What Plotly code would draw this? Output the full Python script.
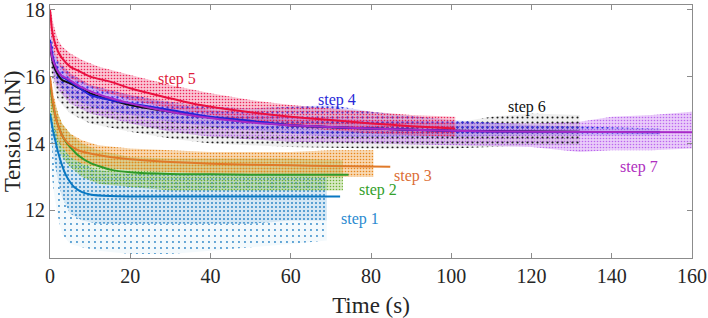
import plotly.graph_objects as go

# ---------------- data ----------------
# fitted curves (time s, tension nN)
t1 = [0, 0.5, 1, 1.5, 2, 3, 4, 5, 6, 8, 10, 15, 20, 30, 40, 50, 60, 72.3]
f1 = [14.9, 14.55, 14.25, 14.0, 13.75, 13.35, 13.05, 12.85, 12.7, 12.55, 12.48, 12.43, 12.42, 12.42, 12.42, 12.42, 12.42, 12.42]
t2 = [0, 0.5, 1, 1.5, 2, 3, 4, 5, 7, 10, 15, 20, 30, 40, 50, 60, 74.4]
f2 = [15.8, 15.35, 15.0, 14.75, 14.55, 14.25, 14.05, 13.9, 13.65, 13.42, 13.22, 13.14, 13.09, 13.08, 13.07, 13.07, 13.07]
t3 = [0, 0.5, 1, 1.5, 2, 3, 4, 5, 7, 10, 15, 20, 30, 40, 50, 60, 70, 84.8]
f3 = [16.0, 15.45, 15.05, 14.75, 14.55, 14.25, 14.07, 13.95, 13.8, 13.7, 13.6, 13.53, 13.45, 13.4, 13.37, 13.35, 13.33, 13.31]
t4 = [0, 0.5, 1, 2, 3, 5, 7.5, 10, 15, 20, 30, 40, 50, 60, 80, 100, 120, 152]
f4 = [17.1, 16.7, 16.45, 16.15, 16.0, 15.85, 15.65, 15.45, 15.3, 15.2, 15.0, 14.8, 14.68, 14.55, 14.45, 14.38, 14.35, 14.34]
t5 = [0, 0.5, 1, 2, 3, 5, 7.5, 10, 15, 20, 27.5, 37.5, 47.5, 60, 70, 80, 90, 101]
f5 = [18.0, 17.4, 17.1, 16.75, 16.55, 16.3, 16.15, 16.0, 15.85, 15.65, 15.42, 15.15, 14.97, 14.8, 14.7, 14.6, 14.52, 14.45]
t6 = [0, 0.5, 1, 2, 3, 5, 10, 20, 30, 40, 60, 80, 100, 132]
f6 = [16.9, 16.55, 16.3, 16.05, 15.9, 15.8, 15.5, 15.15, 14.95, 14.78, 14.55, 14.45, 14.38, 14.35]
t7 = [0, 0.5, 1, 2, 3, 4.2, 7.5, 12.5, 20, 27.5, 37.5, 47.5, 60, 80, 100, 120, 160]
f7 = [17.0, 16.6, 16.4, 16.15, 16.02, 15.95, 15.7, 15.45, 15.2, 15.0, 14.8, 14.66, 14.55, 14.45, 14.38, 14.35, 14.34]

# measured-point clouds: time knots, upper and lower edge of the cloud
b1_t = [0, 1, 2, 3, 5, 8, 12, 20, 30, 40, 50, 60, 69]
b1_up = [15.0, 14.6, 14.2, 13.9, 13.6, 13.4, 13.2, 13.1, 13.1, 13.1, 13.05, 13.05, 13.0]
b1_lo = [14.3, 13.5, 12.9, 12.4, 11.9, 11.7, 11.6, 11.6, 11.6, 11.6, 11.6, 11.7, 11.7]
b1_lo2 = [13.5, 12.5, 11.8, 11.3, 11.0, 10.9, 10.8, 10.7, 10.7, 10.8, 10.9, 11.0, 11.1]
b2_t = [0, 1, 2, 3, 5, 8, 12, 20, 30, 40, 50, 60, 73]
b2_up = [15.9, 15.3, 14.9, 14.6, 14.3, 14.0, 13.8, 13.6, 13.55, 13.55, 13.55, 13.55, 13.5]
b2_lo = [15.0, 14.3, 13.9, 13.6, 13.3, 13.0, 12.8, 12.7, 12.6, 12.6, 12.6, 12.6, 12.6]
b3_t = [0, 1, 2, 3, 5, 8, 12, 20, 30, 40, 50, 60, 70, 80.6]
b3_up = [16.1, 15.4, 14.9, 14.6, 14.3, 14.1, 13.95, 13.85, 13.8, 13.75, 13.75, 13.75, 13.8, 13.8]
b3_lo = [15.3, 14.6, 14.1, 13.9, 13.6, 13.4, 13.3, 13.2, 13.15, 13.1, 13.1, 13.05, 13.0, 13.0]
b4_t = [0, 1, 2, 5, 10, 20, 30, 40, 50, 60, 70, 80, 100, 120, 152]
b4_up = [17.4, 16.8, 16.5, 16.1, 15.75, 15.45, 15.25, 15.1, 15.05, 15.1, 15.15, 14.95, 14.7, 14.55, 14.45]
b4_lo = [16.9, 16.1, 15.8, 15.4, 15.1, 14.85, 14.65, 14.5, 14.4, 14.3, 14.2, 14.2, 14.2, 14.25, 14.25]
b5_t = [0, 1, 2, 3, 5, 8, 12, 20, 30, 40, 50, 60, 70, 80, 90, 101]
b5_up = [18.1, 17.5, 17.1, 16.9, 16.7, 16.5, 16.3, 16.05, 15.75, 15.5, 15.3, 15.15, 15.05, 14.95, 14.85, 14.8]
b5_lo = [17.4, 16.7, 16.4, 16.2, 15.95, 15.8, 15.6, 15.3, 15.05, 14.85, 14.65, 14.5, 14.4, 14.3, 14.25, 14.2]
b6_t = [0, 1, 2, 5, 10, 20, 30, 40, 60, 80, 100, 110, 120, 132]
b6_up = [16.9, 16.3, 16.0, 15.7, 15.4, 15.1, 14.95, 14.85, 14.7, 14.65, 14.6, 14.8, 14.9, 14.85]
b6_lo = [16.4, 15.7, 15.3, 14.9, 14.6, 14.35, 14.15, 14.0, 13.9, 13.85, 13.85, 13.9, 13.95, 13.95]
b7_t = [0, 1, 2, 5, 10, 20, 30, 40, 60, 80, 100, 120, 132, 140, 150, 160]
b7_up = [17.2, 16.7, 16.4, 16.1, 15.75, 15.45, 15.2, 15.0, 14.8, 14.7, 14.65, 14.6, 14.65, 14.8, 14.85, 14.95]
b7_lo = [16.7, 15.9, 15.6, 15.2, 14.9, 14.6, 14.35, 14.2, 14.05, 14.0, 13.95, 13.9, 13.75, 13.8, 13.8, 13.85]

labels = ["step 1", "step 2", "step 3", "step 4", "step 5", "step 6", "step 7"]
label_t = [77.3, 81.8, 90.4, 71.6, 31.6, 118.9, 146.9]
label_y = [11.75, 12.62, 13.04, 15.3, 15.93, 15.1, 13.31]

# ---------------- styling ----------------
line_col = ["#0a78c2", "#2f9a2a", "#e07a2a", "#2424d6", "#ea1040", "#111111", "#a82ac8"]
dot_col = ["#2f88c8", "#6cb02e", "#e8861a", "#2a2ae0", "#ec2458", "#1a1a1a", "#bb66ee"]
text_col = ["#2a8ad0", "#33a02a", "#dc6e36", "#2828d8", "#e01c3c", "#111111", "#b030c0"]
rgba_bg = ["rgba(58,144,204,0.22)", "rgba(122,184,58,0.3)", "rgba(234,140,30,0.34)",
           "rgba(42,42,224,0.16)", "rgba(236,44,96,0.28)", "rgba(34,34,34,0.08)",
           "rgba(194,114,240,0.36)"]
SERIF = "Liberation Serif"

fig = go.Figure()


def cloud(tk, up, lo, i, size, solidity, bg):
    fig.add_trace(go.Scatter(
        x=list(tk) + list(tk)[::-1], y=list(up) + list(lo)[::-1],
        mode="none", fill="toself", fillcolor=bg,
        fillpattern=dict(shape=".", fgcolor=dot_col[i], bgcolor=bg,
                         size=size, solidity=solidity, fgopacity=1),
        hoverinfo="skip", showlegend=False))


# clouds, back to front
cloud(b7_t, b7_up, b7_lo, 6, 3, 0.22, rgba_bg[6])
cloud(b6_t, b6_up, b6_lo, 5, 5, 0.14, rgba_bg[5])
cloud(b4_t, b4_up, b4_lo, 3, 5, 0.16, rgba_bg[3])
cloud(b5_t, b5_up, b5_lo, 4, 3, 0.22, rgba_bg[4])
cloud(b1_t, b1_lo, b1_lo2, 0, 6, 0.08, "rgba(58,144,204,0.06)")
cloud(b1_t, b1_up, b1_lo, 0, 4, 0.2, rgba_bg[0])
cloud(b2_t, b2_up, b2_lo, 1, 3, 0.22, rgba_bg[1])
cloud(b3_t, b3_up, b3_lo, 2, 3, 0.24, rgba_bg[2])

# fitted curves (violet drawn last, on top of steps 4 and 6)
fits = [(t1, f1), (t2, f2), (t3, f3), (t6, f6), (t4, f4), (t5, f5), (t7, f7)]
order = [0, 1, 2, 5, 3, 4, 6]
for (tt, ff), i in zip(fits, order):
    fig.add_trace(go.Scatter(x=tt, y=ff, mode="lines",
                             line=dict(color=line_col[i], width=2, shape="spline", smoothing=0.6),
                             hoverinfo="skip", showlegend=False))

for lab, lt, ly, c in zip(labels, label_t, label_y, text_col):
    fig.add_annotation(x=lt, y=ly, text=lab, showarrow=False,
                       font=dict(family=SERIF, size=16, color=c))

axis_common = dict(showline=True, linecolor="#8c8c8c", linewidth=1, mirror="ticks",
                   ticks="inside", ticklen=5, tickcolor="#8c8c8c", showgrid=False, zeroline=False,
                   automargin=False, ticklabeloverflow="allow",
                   tickfont=dict(family=SERIF, size=20, color="#262626"))
fig.update_xaxes(range=[0, 160], tickvals=[0, 20, 40, 60, 80, 100, 120, 140, 160],
                 title=dict(text="Time (s)", font=dict(family=SERIF, size=23, color="#262626"), standoff=10),
                 **axis_common)
fig.update_yaxes(range=[10.58, 18.14], tickvals=[12, 14, 16, 18],
                 title=dict(text="Tension (nN)", font=dict(family=SERIF, size=23, color="#262626"), standoff=8),
                 **axis_common)
fig.update_layout(width=708, height=318, margin=dict(l=50, r=16, t=5, b=60),
                  plot_bgcolor="white", paper_bgcolor="white",
                  font=dict(family=SERIF))
fig.write_html("out.html", config={"displayModeBar": False},
               post_script="document.body.style.margin='0';document.body.style.overflow='hidden';")
